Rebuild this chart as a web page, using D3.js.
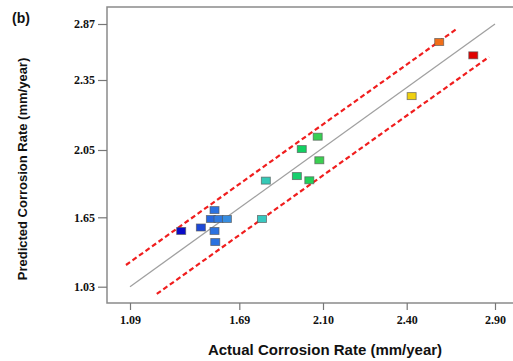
<!DOCTYPE html>
<html>
<head>
<meta charset="utf-8">
<script src="https://cdn.jsdelivr.net/npm/d3@7"></script>
<style>
  body { margin: 0; background: #fff; }
  svg { display: block; }
</style>
</head>
<body>
<div id="chart"></div>
<script>
// tick labels (the axes in the figure are not evenly spaced)
const xTicks = [1.09, 1.69, 2.10, 2.40, 2.90];
const yTicks = [1.03, 1.65, 2.05, 2.35, 2.87];

// runs: actual vs predicted corrosion rate
const actual    = [1.371, 1.479, 1.554, 1.534, 1.576, 1.622, 1.554, 1.558, 1.801, 1.820, 1.972, 1.996, 2.033, 2.074, 2.082, 2.428, 2.584, 2.777];
const predicted = [1.528, 1.559, 1.693, 1.635, 1.635, 1.635, 1.528, 1.429, 1.635, 1.868, 1.895, 2.054, 1.870, 2.107, 1.989, 2.281, 2.703, 2.579];

// reference line and the two dashed bands: [actual, predicted] end points
const fitLine   = [[1.09, 1.03], [2.90, 2.87]];
const upperBand = [[1.068, 1.224], [2.690, 2.833]];
const lowerBand = [[1.237, 0.965], [2.866, 2.564]];

const width = 513, height = 361;
const frame = { left: 107, top: 7, right: 520, bottom: 303 };

const svg = d3.select('#chart')
  .append('svg')
  .attr('width', width)
  .attr('height', height);

// piecewise scales so the ticks land where they do in the figure
const x = d3.scaleLinear()
  .domain(xTicks)
  .range([130, 239.3, 323, 406.7, 495]);
const y = d3.scaleLinear()
  .domain(yTicks)
  .range([286.7, 217.3, 150, 80, 24]);

const color = d3.scaleLinear()
  .domain([1.37, 1.55, 1.63, 1.80, 2.0, 2.43, 2.58, 2.78])
  .range(['#0a0ac8', '#2a70e0', '#3890e0', '#38c8c0', '#10d060', '#f0d010', '#f07018', '#e00000']);

svg.append('rect')
  .attr('x', frame.left)
  .attr('y', frame.top)
  .attr('width', frame.right - frame.left)
  .attr('height', frame.bottom - frame.top)
  .attr('fill', 'none')
  .attr('stroke', '#8a8a8a')
  .attr('stroke-width', 1.5);

const line = d3.line()
  .x(d => x(d[0]))
  .y(d => y(d[1]));

svg.append('path')
  .datum(fitLine)
  .attr('fill', 'none')
  .attr('stroke', '#a0a0a0')
  .attr('stroke-width', 1.3)
  .attr('d', line);

svg.selectAll('.band')
  .data([upperBand, lowerBand])
  .join('path')
  .attr('class', 'band')
  .attr('fill', 'none')
  .attr('stroke', '#f01e1e')
  .attr('stroke-width', 2.2)
  .attr('stroke-dasharray', '5,3')
  .attr('d', line);

const pts = actual.map((a, i) => ({ a: a, p: predicted[i] }));
const mw = 9, mh = 7;
svg.selectAll('.pt')
  .data(pts)
  .join('rect')
  .attr('class', 'pt')
  .attr('x', d => x(d.a) - mw / 2)
  .attr('y', d => y(d.p) - mh / 2)
  .attr('width', mw)
  .attr('height', mh)
  .attr('fill', d => color(d.a))
  .attr('stroke', '#555')
  .attr('stroke-opacity', 0.7)
  .attr('stroke-width', 0.9);

const fmt = d3.format('.2f');

const xAxis = svg.append('g')
  .attr('transform', `translate(0,${frame.bottom})`)
  .call(d3.axisBottom(x).tickValues(xTicks).tickFormat(fmt).tickSize(7).tickSizeOuter(0).tickPadding(5));
const yAxis = svg.append('g')
  .attr('transform', `translate(${frame.left},0)`)
  .call(d3.axisLeft(y).tickValues(yTicks).tickFormat(fmt).tickSize(9).tickSizeOuter(0).tickPadding(3));

[xAxis, yAxis].forEach(g => {
  g.select('.domain').remove();
  g.selectAll('.tick line').attr('stroke', '#777').attr('stroke-width', 1.2);
  g.selectAll('.tick text')
    .attr('fill', '#111')
    .style('font-family', '"Liberation Serif", "Times New Roman", serif')
    .style('font-weight', 'bold')
    .style('font-size', '12px');
});

svg.append('text')
  .attr('x', 325)
  .attr('y', 355)
  .attr('text-anchor', 'middle')
  .style('font-family', '"Liberation Sans", Arial, sans-serif')
  .style('font-weight', 'bold')
  .style('font-size', '15px')
  .attr('fill', '#111')
  .text('Actual Corrosion Rate (mm/year)');

svg.append('text')
  .attr('transform', 'translate(27,169) rotate(-90)')
  .attr('text-anchor', 'middle')
  .style('font-family', '"Liberation Sans", Arial, sans-serif')
  .style('font-weight', 'bold')
  .style('font-size', '13px')
  .attr('fill', '#111')
  .text('Predicted Corrosion Rate (mm/year)');

svg.append('text')
  .attr('x', 12)
  .attr('y', 23)
  .style('font-family', '"Liberation Sans", Arial, sans-serif')
  .style('font-weight', 'bold')
  .style('font-size', '14px')
  .attr('fill', '#111')
  .text('(b)');
</script>
</body>
</html>
